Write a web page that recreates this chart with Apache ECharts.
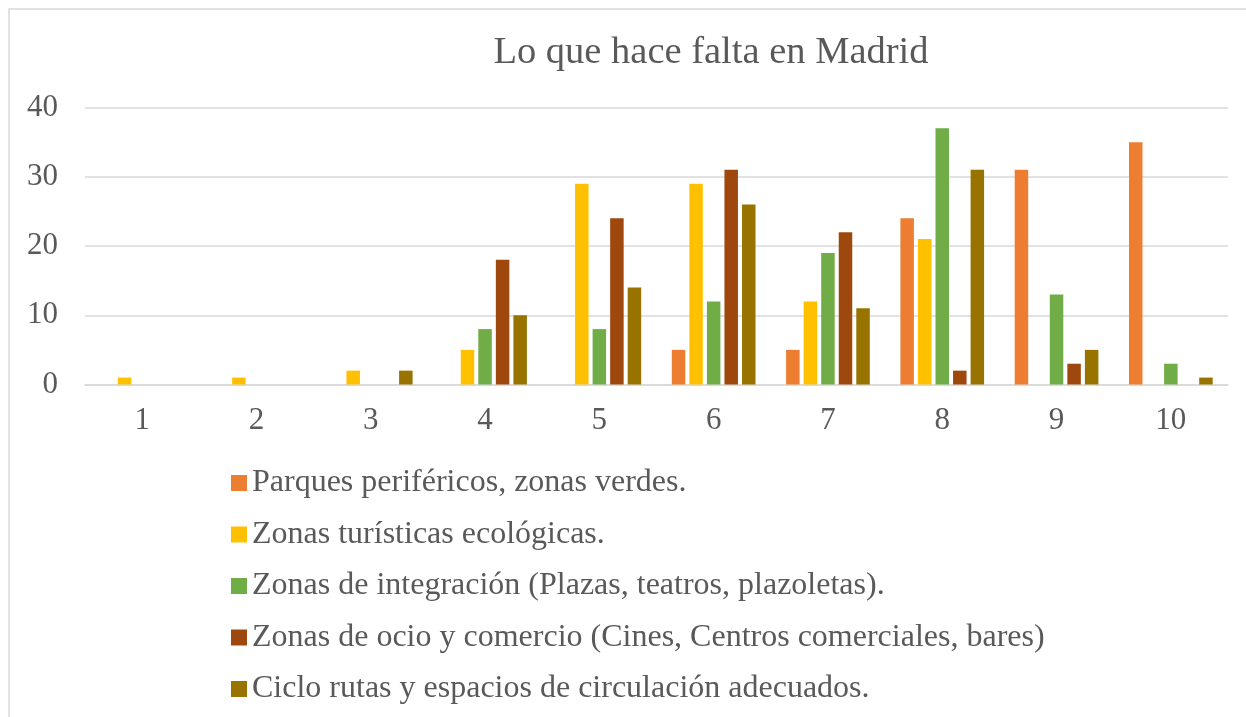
<!DOCTYPE html>
<html>
<head>
<meta charset="utf-8">
<script src="https://cdn.jsdelivr.net/npm/echarts@6/dist/echarts.min.js"></script>
<style>
html,body{margin:0;padding:0;background:#fff;}
#chart{width:1246px;height:717px;}
</style>
</head>
<body>
<div id="chart"></div>
<script>
const titleText = 'Lo que hace falta en Madrid';
const categories = ['1','2','3','4','5','6','7','8','9','10'];
const seriesNames = [
  'Parques periféricos, zonas verdes.',
  'Zonas turísticas ecológicas.',
  'Zonas de integración (Plazas, teatros, plazoletas).',
  'Zonas de ocio y comercio (Cines, Centros comerciales, bares)',
  'Ciclo rutas y espacios de circulación adecuados.'
];
const parques    = [0, 0, 0, 0, 0, 5, 5, 24, 31, 35];
const turisticas = [1, 1, 2, 5, 29, 29, 12, 21, 0, 0];
const integracion= [0, 0, 0, 8, 8, 12, 19, 37, 13, 3];
const ocio       = [0, 0, 0, 18, 24, 31, 22, 2, 3, 0];
const ciclo      = [0, 0, 2, 10, 14, 26, 11, 31, 5, 1];
const seriesValues = [parques, turisticas, integracion, ocio, ciclo];
const colors = ['#ED7D31', '#FFC000', '#70AD47', '#9E480E', '#997300'];

const font = '"Liberation Serif", "Times New Roman", serif';
const textColor = '#595959';

const chart = echarts.init(document.getElementById('chart'));
chart.setOption({
  animation: false,
  color: colors,
  graphic: [{
    type: 'rect',
    shape: {x: 9, y: 9, width: 1300, height: 800},
    style: {fill: 'none', stroke: '#d9d9d9', lineWidth: 1.5},
    silent: true
  }],
  title: {
    text: titleText,
    left: 706,
    textAlign: 'center',
    top: 28,
    textStyle: {fontFamily: font, fontSize: 38.5, fontWeight: 'normal', color: textColor}
  },
  legend: {
    orient: 'vertical',
    left: 231,
    top: 467,
    padding: 0,
    itemWidth: 16,
    itemHeight: 16,
    itemGap: 19.5,
    icon: 'rect',
    textStyle: {fontFamily: font, fontSize: 32, color: textColor, lineHeight: 29},
    data: seriesNames
  },
  grid: {left: 85, right: 18, top: 107.5, bottom: 717 - 384.5, containLabel: false},
  xAxis: {
    type: 'category',
    data: categories,
    axisLine: {lineStyle: {color: '#d9d9d9', width: 1.5}},
    axisTick: {show: false},
    axisLabel: {fontFamily: font, fontSize: 31, color: textColor, margin: 21}
  },
  yAxis: {
    type: 'value',
    min: 0, max: 40, interval: 10,
    axisLine: {show: false},
    axisTick: {show: false},
    splitLine: {lineStyle: {color: '#d9d9d9', width: 1.5}},
    axisLabel: {fontFamily: font, fontSize: 31, color: textColor, margin: 27}
  },
  series: seriesNames.map((name, i) => ({
    name: name,
    type: 'bar',
    data: seriesValues[i],
    barWidth: 13.5,
    barGap: '30%',
    itemStyle: {color: colors[i]}
  }))
});
</script>
</body>
</html>
